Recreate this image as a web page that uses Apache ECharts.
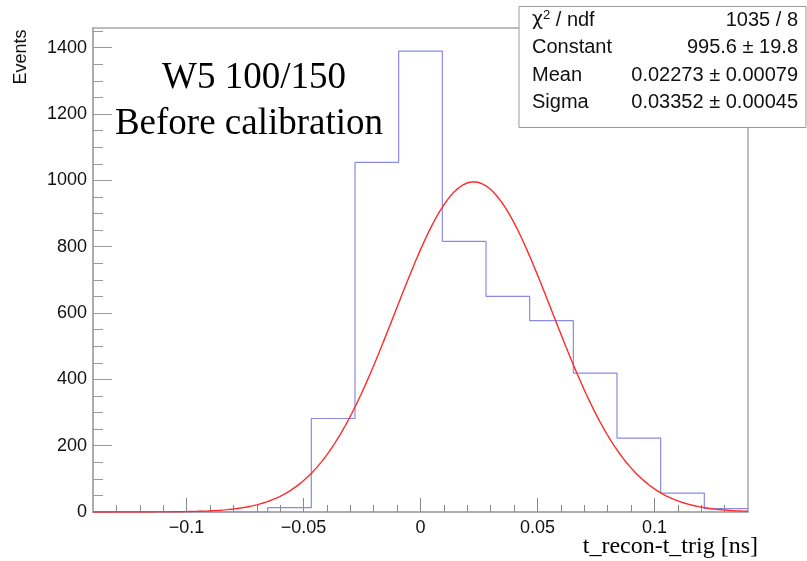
<!DOCTYPE html>
<html>
<head>
<meta charset="utf-8">
<script src="https://cdn.jsdelivr.net/npm/echarts@6/dist/echarts.min.js"></script>
<style>
html,body{margin:0;padding:0;background:#fff;}
#chart{width:807px;height:561px;}
</style>
</head>
<body>
<div id="chart"></div>
<script>
// ---- data ----
const histLow = -0.14;
const histHigh = 0.14;
const binCounts = [0, 0, 0, 0, 13, 282, 1054, 1390, 816, 650, 577, 419, 223, 57, 10];
const fitConstant = 995.6;
const fitMean = 0.02273;
const fitSigma = 0.03352;
const xMajorTicks = [-0.1, -0.05, 0, 0.05, 0.1];
const xMinorTicks = [-0.13, -0.12, -0.11, -0.09, -0.08, -0.07, -0.06, -0.04, -0.03, -0.02, -0.01,
                     0.01, 0.02, 0.03, 0.04, 0.06, 0.07, 0.08, 0.09, 0.11, 0.12, 0.13];
const yMajorTicks = [0, 200, 400, 600, 800, 1000, 1200, 1400];
const yMinorTicks = [50, 100, 150, 250, 300, 350, 450, 500, 550, 650, 700, 750, 850, 900, 950,
                     1050, 1100, 1150, 1250, 1300, 1350, 1450];
const yMax = 1459.5;
const statNames = ['{chi|χ}{sup|2}{n| / ndf}', 'Constant', 'Mean', 'Sigma'];
const statValues = ['1035 / 8', '995.6 ± 19.8', '0.02273 ± 0.00079', '0.03352 ± 0.00045'];
const titleLines = ['W5 100/150', 'Before calibration'];
const xTitle = 't_recon-t_trig [ns]';
const yTitle = 'Events';

// ---- build ----
const nBins = binCounts.length;
const binW = (histHigh - histLow) / nBins;
const histData = [];
for (let i = 0; i <= nBins; i++) {
  histData.push([histLow + i * binW, binCounts[Math.min(i, nBins - 1)]]);
}
const fitData = [];
const nFit = 400;
for (let i = 0; i <= nFit; i++) {
  const x = histLow + (histHigh - histLow) * i / nFit;
  const z = (x - fitMean) / fitSigma;
  fitData.push([x, fitConstant * Math.exp(-0.5 * z * z)]);
}

const axisCol = '#a8a8a8';
const sans = 'Liberation Sans';
const serif = 'Liberation Serif';
const fmtX = v => String(+(+v).toFixed(4)).replace('-', '\u2212');
const fmtY = v => String(Math.round(+v));

const chart = echarts.init(document.getElementById('chart'), null, {renderer: 'canvas'});

const statGraphics = [{
  type: 'rect', shape: {x: 519, y: 6.5, width: 287, height: 121},
  style: {fill: '#fff', stroke: '#9a9a9a', lineWidth: 1}, z: 10
}];
statNames.forEach((n, i) => {
  const y = 20 + i * 27.5;
  statGraphics.push({
    type: 'text', x: 532, y: y, z: 11,
    style: {
      text: n, fontFamily: sans, fontSize: 20, fill: '#111',
      align: 'left', verticalAlign: 'middle',
      rich: {
        chi: {fontFamily: 'DejaVu Sans', fontSize: 19, fill: '#111'},
        sup: {fontFamily: sans, fontSize: 13, fill: '#111', padding: [0, 0, 9, 0]},
        n: {fontFamily: sans, fontSize: 20, fill: '#111'}
      }
    }
  });
  statGraphics.push({
    type: 'text', x: 798, y: y, z: 11,
    style: {text: statValues[i], fontFamily: sans, fontSize: 20, fill: '#111', align: 'right', verticalAlign: 'middle'}
  });
});

const option = {
  animation: false,
  backgroundColor: '#fff',
  grid: {left: 93, right: 59, top: 28, bottom: 49, show: true, borderColor: axisCol, borderWidth: 1.5, containLabel: false},
  xAxis: [{
    type: 'value', min: histLow, max: histHigh, position: 'bottom',
    axisLine: {show: true, onZero: false, lineStyle: {color: axisCol, width: 1.5}},
    axisTick: {show: true, inside: true, length: 14, customValues: xMajorTicks, lineStyle: {color: '#888', width: 1}},
    axisLabel: {show: true, customValues: xMajorTicks, formatter: fmtX, margin: 7, fontFamily: sans, fontSize: 18, color: '#111'},
    splitLine: {show: false}
  }, {
    type: 'value', min: histLow, max: histHigh, position: 'bottom',
    axisLine: {show: false, onZero: false},
    axisTick: {show: true, inside: true, length: 7, customValues: xMinorTicks, lineStyle: {color: '#888', width: 1}},
    axisLabel: {show: false},
    splitLine: {show: false}
  }],
  yAxis: [{
    type: 'value', min: 0, max: yMax, position: 'left',
    axisLine: {show: true, onZero: false, lineStyle: {color: axisCol, width: 1.5}},
    axisTick: {show: true, inside: true, length: 19, customValues: yMajorTicks, lineStyle: {color: '#999', width: 1}},
    axisLabel: {show: true, customValues: yMajorTicks, formatter: fmtY, margin: 6, fontFamily: sans, fontSize: 18, color: '#111'},
    splitLine: {show: false}
  }, {
    type: 'value', min: 0, max: yMax, position: 'left',
    axisLine: {show: false, onZero: false},
    axisTick: {show: true, inside: true, length: 10, customValues: yMinorTicks, lineStyle: {color: '#999', width: 1}},
    axisLabel: {show: false},
    splitLine: {show: false}
  }],
  series: [{
    type: 'line', name: 'hist', xAxisIndex: 0, yAxisIndex: 0,
    data: histData, step: 'end', symbol: 'none',
    lineStyle: {color: '#8a8ae6', width: 1.2}, z: 3
  }, {
    type: 'line', name: 'fit', xAxisIndex: 0, yAxisIndex: 0,
    data: fitData, symbol: 'none', smooth: false,
    lineStyle: {color: '#ff2a2a', width: 1.4}, z: 4
  }],
  graphic: [
    {type: 'text', x: 254, y: 78, style: {text: titleLines[0], fontFamily: serif, fontSize: 37, fill: '#000', align: 'center', verticalAlign: 'middle'}, z: 12},
    {type: 'text', x: 249, y: 124, style: {text: titleLines[1], fontFamily: serif, fontSize: 37, fill: '#000', align: 'center', verticalAlign: 'middle'}, z: 12},
    {type: 'text', x: 758, y: 547, style: {text: xTitle, fontFamily: serif, fontSize: 24, fill: '#000', align: 'right', verticalAlign: 'middle'}, z: 12},
    {type: 'text', x: 21, y: 57, rotation: Math.PI / 2, style: {text: yTitle, fontFamily: sans, fontSize: 18, fill: '#111', align: 'center', verticalAlign: 'middle'}, z: 12}
  ].concat(statGraphics)
};
chart.setOption(option);
</script>
</body>
</html>
